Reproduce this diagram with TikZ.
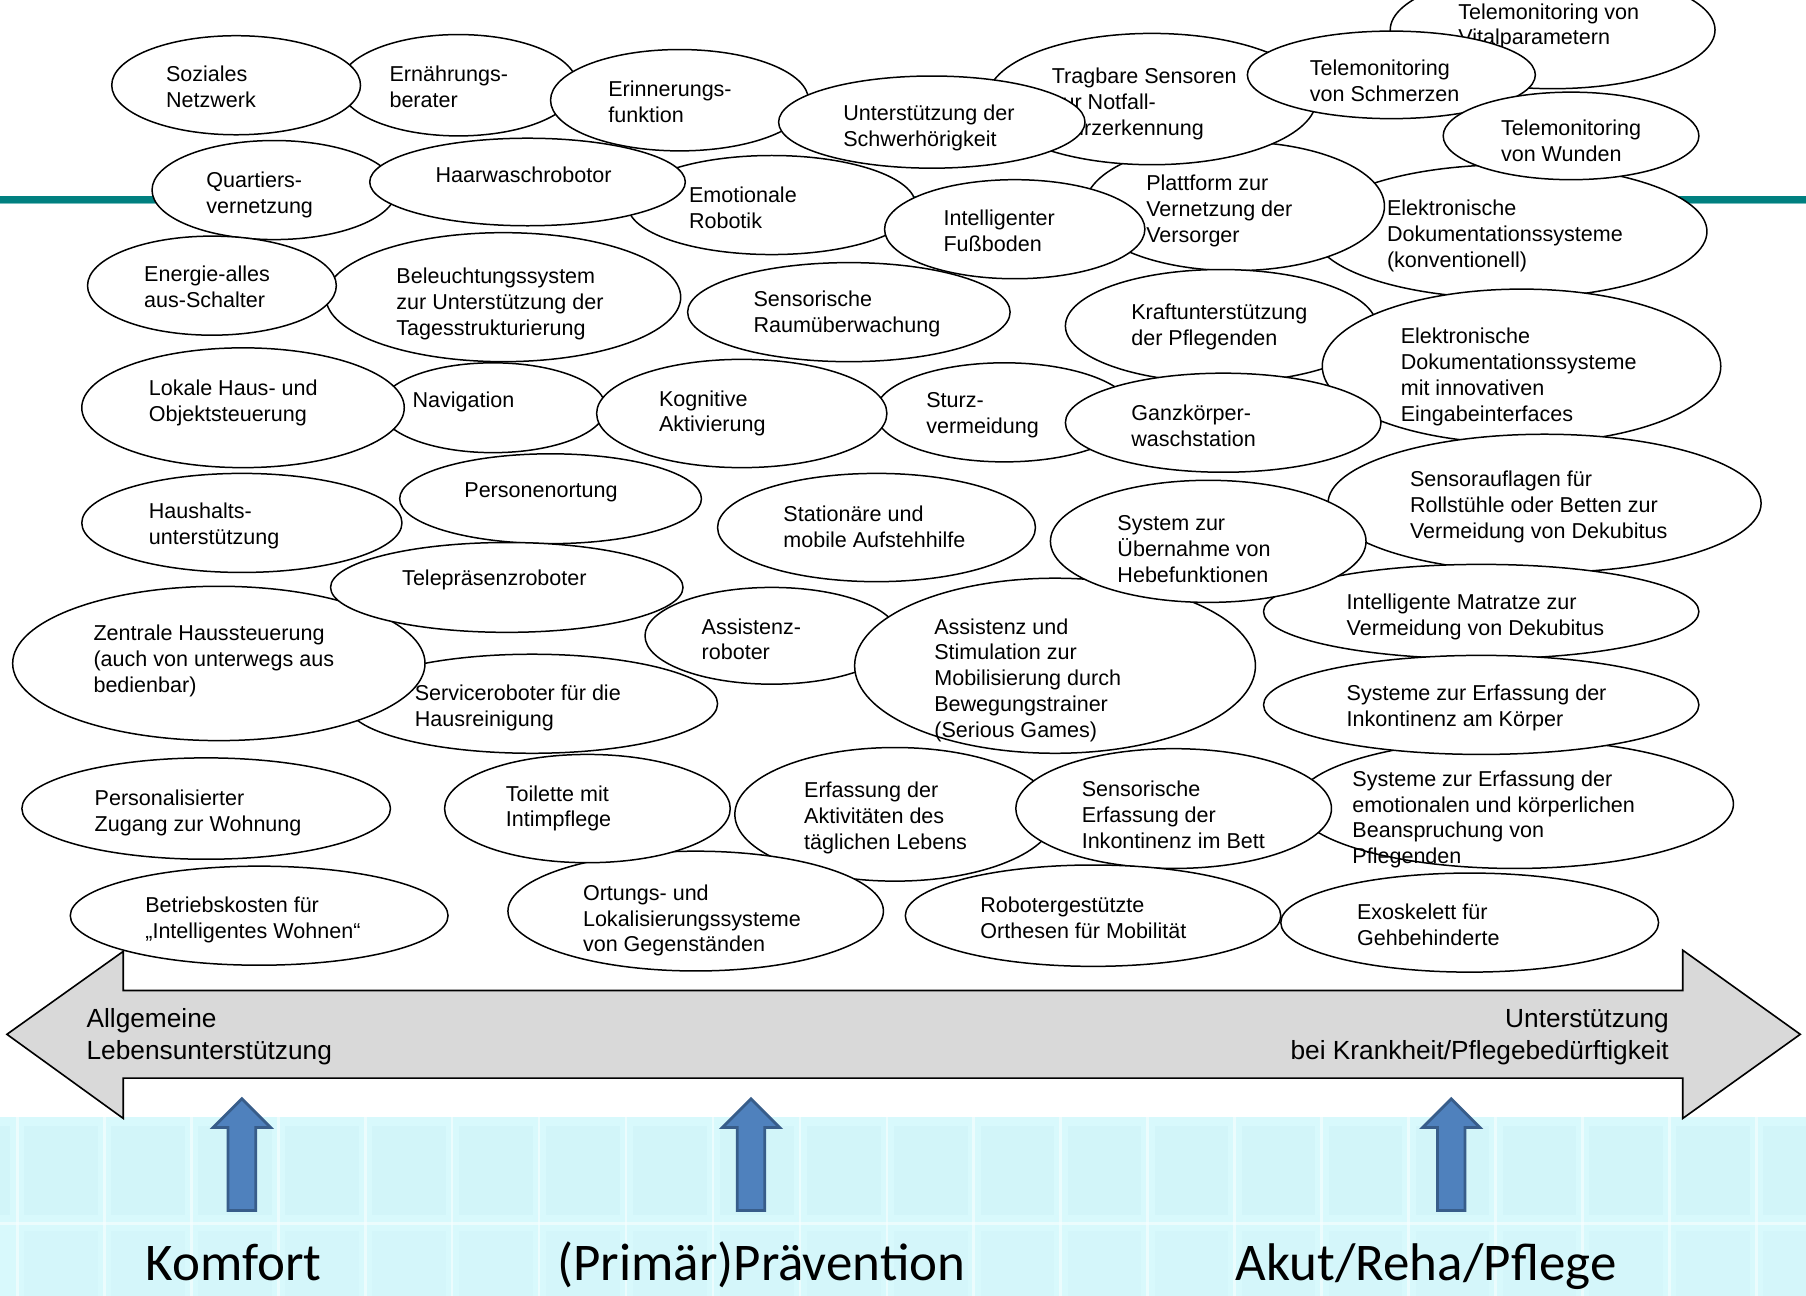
\documentclass[tikz,border=0pt]{standalone}
\usepackage{fontspec}
\setmainfont{Liberation Sans}
\newfontfamily\calibri{Carlito}
\usetikzlibrary{shapes.geometric}

\definecolor{teal}{RGB}{0,128,128}
\definecolor{teallight}{RGB}{120,190,190}
\definecolor{arrowgray}{RGB}{217,217,217}
\definecolor{officeblue}{RGB}{79,129,189}
\definecolor{officeblueedge}{RGB}{56,93,138}
\definecolor{tilebase}{RGB}{216,249,252}
\definecolor{tilepanel}{RGB}{198,236,245}
\definecolor{tilegrout}{RGB}{246,255,255}

\tikzset{
  bub/.style={ellipse, draw=black, fill=white, line width=1.3pt, inner sep=0pt, outer sep=0pt},
  btxt/.style={anchor=base west, inner sep=0pt, font=\fontsize{18.7}{22.5}\selectfont},
  atxt/.style={inner sep=0pt, font=\fontsize{22.8}{28}\selectfont},
  bigtxt/.style={anchor=base, inner sep=0pt, font=\calibri\fontsize{46}{50}\selectfont},
  uparrow/.style={fill=officeblue, draw=officeblueedge, line width=2.4pt, line join=miter},
  grout/.style={draw=tilegrout, line width=2.4pt, opacity=0.65},
}

% left-aligned block whose reference point is the first baseline
\newcommand{\toplines}[1]{\begin{tabular}[t]{@{}l@{}}#1\end{tabular}}
\newcommand{\toplinesr}[1]{\begin{tabular}[t]{@{}r@{}}#1\end{tabular}}

% \blob{name}{cx}{cy}{rx}{ry}{text x}{first baseline}{text}
\newcommand{\blob}[8]{%
  \node[bub, minimum width={2*#4}, minimum height={2*#5}] (#1) at (#2,#3) {};
  \node[btxt] (#1t) at (#6,#7) {\toplines{#8}};
}
% \uparr{name}{center x}
\newcommand{\uparr}[2]{%
  \coordinate (#1) at (#2,1051);
  \fill[uparrow] ([xshift=-12pt]#1) -- ++(0,-72) -- ++(-13,0) -- ++(25,-25)
     -- ++(25,25) -- ++(-13,0) -- ++(0,72) -- cycle;
}

\begin{document}
\begin{tikzpicture}[x=1pt,y=-1pt]
\useasboundingbox (0,0) rectangle (1568,1125);
\fill[white] (0,0) rectangle (1568,1125);

% tiled floor at the bottom
\fill[tilebase] (0,970) rectangle (1568,1125);
\foreach \k in {0,...,21}{
  \fill[tilepanel, opacity=0.3] ({15+75.5*\k+6},978) rectangle ({15+75.5*\k+70},1055);
  \fill[tilepanel, opacity=0.2] ({15+75.5*\k+6},1069) rectangle ({15+75.5*\k+70},1125);
}
\fill[tilepanel, opacity=0.3] (0,978) rectangle (9,1055);
\foreach \k in {0,...,21}{
  \draw[grout] ({15+75.5*\k},970) -- ({15+75.5*\k},1125);
}
\draw[grout] (0,1062) -- (1568,1062);

% teal header rule
\draw[teal, line width=6pt] (0,173) -- (1568,173);
\draw[teallight, line width=1pt] (0,176.6) -- (1568,176.6);

% bubbles, back to front
\blob{ern}{398}{74}{103}{44}{338}{70.5}{Ernährungs-\\berater}
\blob{soz}{205}{74}{108}{43}{144}{70.5}{Soziales\\Netzwerk}
\blob{erin}{590}{87}{112}{44}{528}{83.5}{Erinnerungs-\\funktion}
\blob{vital}{1348}{26}{141}{51}{1266}{16.5}{Telemonitoring von\\Vitalparametern}
\blob{konv}{1311}{201}{171}{58}{1204}{187.5}{Elektronische\\Dokumentationssysteme\\(konventionell)}
\blob{plat}{1072}{179}{130}{56}{995}{165.5}{Plattform zur\\Vernetzung der\\Versorger}
\blob{trag}{1000}{86}{143}{57}{913}{72.5}{Tragbare Sensoren\\zur Notfall-\\Sturzerkennung}
\blob{schm}{1208}{65}{125}{38}{1137}{65.5}{Telemonitoring\\von Schmerzen}
\blob{wund}{1364}{118}{111}{38}{1303}{117.5}{Telemonitoring\\von Wunden}
\blob{emo}{670}{178}{125}{43}{598}{175.5}{Emotionale\\Robotik}
\blob{unter}{809}{106}{133}{40}{732}{104.5}{Unterstützung der\\Schwerhörigkeit}
\blob{raum}{737}{271}{140}{43}{654}{266.5}{Sensorische\\Raumüberwachung}
\blob{intel}{881}{199}{113}{43}{819}{195.5}{Intelligenter\\Fußboden}
\blob{quart}{238}{165}{106}{43}{179}{162.5}{Quartiers-\\vernetzung}
\blob{haar}{458}{158}{137}{38}{378}{158.5}{Haarwaschrobotor}
\blob{bel}{437}{258}{154}{56}{344}{246.5}{Beleuchtungssystem\\zur Unterstützung der\\Tagesstrukturierung}
\blob{energ}{184}{248}{108}{43}{125}{244.5}{Energie-alles\\aus-Schalter}
\blob{kraft}{1060}{283}{135}{49}{982}{277.5}{Kraftunterstützung\\der Pflegenden}
\blob{innov}{1321}{318}{173}{67}{1216}{298.5}{Elektronische\\Dokumentationssysteme\\mit innovativen\\Eingabeinterfaces}
\blob{sturz}{872}{358}{112}{43}{804}{353.5}{Sturz-\\vermeidung}
\blob{ganz}{1062}{367}{137}{43}{982}{365.5}{Ganzkörper-\\waschstation}
\blob{sensauf}{1341}{437}{188}{60}{1224}{422.5}{Sensorauflagen für\\Rollstühle oder Betten zur\\Vermeidung von Dekubitus}
\blob{nav}{428}{354}{98}{39}{358}{353.5}{Navigation}
\blob{lokal}{211}{354}{140}{52}{129}{343.5}{Lokale Haus- und\\Objektsteuerung}
\blob{kog}{644}{359}{126}{47}{572}{352.5}{Kognitive\\Aktivierung}
\blob{ortung}{478}{433}{131}{39}{403}{431.5}{Personenortung}
\blob{haush}{210}{454}{139}{43}{129}{450.5}{Haushalts-\\unterstützung}
\blob{serv}{462}{611}{161}{43}{360}{608.5}{Serviceroboter für die\\Hausreinigung}
\blob{assr}{670}{552}{110}{42}{609}{550.5}{Assistenz-\\roboter}
\blob{zentr}{190}{576}{179}{67}{81}{556.5}{Zentrale Haussteuerung\\(auch von unterwegs aus\\bedienbar)}
\blob{telep}{440}{510}{153}{39}{349}{508.5}{Telepräsenzroboter}
\blob{stat}{761}{458}{138}{47}{680}{452.5}{Stationäre und\\mobile Aufstehhilfe}
\blob{assist}{916}{578}{174}{76}{811}{550.5}{Assistenz und\\Stimulation zur\\Mobilisierung durch\\Bewegungstrainer\\(Serious Games)}
\blob{matr}{1286}{531}{189}{41}{1169}{529.5}{Intelligente Matratze zur\\Vermeidung von Dekubitus}
\blob{hebe}{1049}{470}{137}{53}{970}{460.5}{System zur\\Übernahme von\\Hebefunktionen}
\blob{emot}{1315}{698}{190}{56}{1174}{682.5}{Systeme zur Erfassung der\\emotionalen und körperlichen\\Beanspruchung von\\Pflegenden}
\blob{koerp}{1286}{612}{189}{43}{1169}{608.5}{Systeme zur Erfassung der\\Inkontinenz am Körper}
\blob{adl}{777}{707}{139}{58}{698}{692.5}{Erfassung der\\Aktivitäten des\\täglichen Lebens}
\blob{bett}{1019}{702}{137}{52}{939}{691.5}{Sensorische\\Erfassung der\\Inkontinenz im Bett}
\blob{lokali}{604}{791}{163}{52}{506}{781.5}{Ortungs- und\\Lokalisierungssysteme\\von Gegenständen}
\blob{toil}{510}{702}{124}{47}{439}{695.5}{Toilette mit\\Intimpflege}
\blob{orth}{949}{795}{163}{44}{851}{792.5}{Robotergestützte\\Orthesen für Mobilität}
\blob{exo}{1276}{801}{164}{43}{1178}{798.5}{Exoskelett für\\Gehbehinderte}
\blob{zugang}{179}{702}{160}{44}{82}{699.5}{Personalisierter\\Zugang zur Wohnung}
\blob{betr}{225}{795}{164}{43}{126}{792.5}{Betriebskosten für\\„Intelligentes Wohnen“}

% double-headed scale arrow
\coordinate (lefttip) at (6,898);
\coordinate (righttip) at (1563,898);
\filldraw[fill=arrowgray, draw=black, line width=1.4pt, line join=miter]
  (lefttip) -- (107,826) -- (107,860) -- (1461,860) -- (1461,825)
  -- (righttip) -- (1461,971) -- (1461,936) -- (107,936) -- (107,971) -- cycle;
\node[atxt, anchor=base west] (lefttxt) at (75,892)
  {\toplines{Allgemeine\\Lebensunterstützung}};
\node[atxt, anchor=base east] (righttxt) at (1449,892)
  {\toplinesr{Unterstützung\\bei Krankheit/Pflegebedürftigkeit}};

% category pointers
\uparr{komfortarrow}{210}
\uparr{praevarrow}{652}
\uparr{akutarrow}{1260}

\node[bigtxt] (komfort) at (203,1112) {Komfort};
\node[bigtxt] (praev) at (661,1112) {(Primär)Prävention};
\node[bigtxt] (akut) at (1238,1112) {Akut/Reha/Pflege};
\end{tikzpicture}
\end{document}
